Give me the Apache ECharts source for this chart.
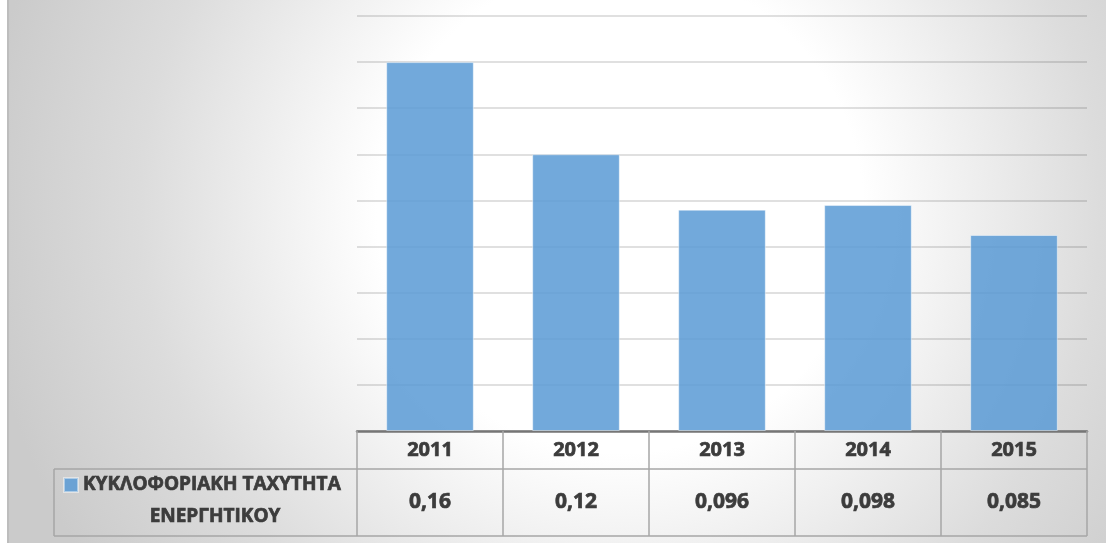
<!DOCTYPE html>
<html>
<head>
<meta charset="utf-8">
<script src="https://cdn.jsdelivr.net/npm/echarts@6/dist/echarts.min.js"></script>
<style>
  html, body { margin: 0; padding: 0; background: #ffffff; }
  #chart { width: 1106px; height: 543px; }
</style>
</head>
<body>
<div id="chart"></div>
<script>
// Years shown on the category axis / table header
const categories = ['2011', '2012', '2013', '2014', '2015'];
// Asset turnover ratio per year
const values = [0.16, 0.12, 0.096, 0.098, 0.085];
// Series name, split over two lines in the legend cell
const seriesName = 'ΚΥΚΛΟΦΟΡΙΑΚΗ ΤΑΧΥΤΗΤΑ ΕΝΕΡΓΗΤΙΚΟΥ';
const legendLines = ['ΚΥΚΛΟΦΟΡΙΑΚΗ ΤΑΧΥΤΗΤΑ', 'ΕΝΕΡΓΗΤΙΚΟΥ'];

const FONT = '"Open Sans", "Noto Sans", sans-serif';
const WEIGHT = 'bold';
const TEXT = '#3c3c3c';
const CELL_LINE = '#a6a6a6';
// a thin outline in the text colour gives the heavy look of the table font
const heavy = { textBorderColor: TEXT, textBorderWidth: 0.7 };

// Greek-style decimal comma
const fmt = v => String(v).replace('.', ',');

const chart = echarts.init(document.getElementById('chart'));

const gridLeft = 357, gridRight = 19, gridTop = 16, gridBottom = 112;
const W = 1106, H = 543;
const axisY = H - gridBottom;          // baseline of the bars
const row1 = axisY + 38;               // line between year row and value row
const row2 = axisY + 105;              // bottom of the table
const legendCellLeft = 54;

chart.setOption({
  animation: false,
  textStyle: { fontFamily: FONT },
  graphic: [
    {
      type: 'rect', z: -10, silent: true,
      shape: { x: 9, y: 0, width: W - 9, height: H },
      style: {
        fill: {
          type: 'radial', x: 620, y: 210, r: 640, global: true,
          colorStops: [
            { offset: 0, color: '#ffffff' },
            { offset: 0.38, color: '#ffffff' },
            { offset: 0.75, color: '#dcdcdc' },
            { offset: 1, color: '#cbcbcb' }
          ]
        }
      }
    },
    {
      type: 'line', silent: true,
      shape: { x1: 8, y1: 0, x2: 8, y2: H },
      style: { stroke: '#bdbdbd', lineWidth: 2 }
    },
    // table grid lines
    {
      type: 'line', silent: true,
      shape: { x1: legendCellLeft, y1: row1, x2: W - gridRight, y2: row1 },
      style: { stroke: CELL_LINE, lineWidth: 1.5 }
    },
    {
      type: 'line', silent: true,
      shape: { x1: legendCellLeft, y1: row2, x2: W - gridRight, y2: row2 },
      style: { stroke: CELL_LINE, lineWidth: 1.5 }
    },
    {
      type: 'line', silent: true,
      shape: { x1: legendCellLeft, y1: row1, x2: legendCellLeft, y2: row2 },
      style: { stroke: CELL_LINE, lineWidth: 1.5 }
    },
    // second line of the legend label
    {
      type: 'text', silent: true,
      x: 215, y: 517,
      style: Object.assign({
        text: legendLines[1],
        fontSize: 19,
        fontWeight: WEIGHT,
        fontFamily: FONT,
        fill: TEXT,
        stroke: TEXT,
        lineWidth: 0.7,
        align: 'center',
        verticalAlign: 'middle'
      })
    }
  ],
  legend: {
    left: 63, top: 474, padding: 0,
    icon: 'rect', itemWidth: 14, itemHeight: 14, itemGap: 5,
    formatter: () => legendLines[0],
    textStyle: Object.assign({ color: TEXT, fontSize: 19, fontWeight: WEIGHT, fontFamily: FONT, lineHeight: 22 }, heavy),
    data: [seriesName]
  },
  grid: { left: gridLeft, right: gridRight, top: gridTop, bottom: gridBottom, containLabel: false },
  xAxis: {
    type: 'category',
    data: categories,
    boundaryGap: true,
    axisLine: { show: true, lineStyle: { color: '#767676', width: 2.5 } },
    axisTick: { show: true, length: 105, lineStyle: { color: CELL_LINE, width: 1.5 } },
    axisLabel: {
      interval: 0, margin: 0,
      formatter: (val, idx) => '{y|' + val + '}\n{v|' + fmt(values[idx]) + '}',
      rich: {
        y: Object.assign({ fontSize: 20, fontWeight: WEIGHT, color: TEXT, fontFamily: FONT, lineHeight: 38, align: 'center' }, heavy),
        v: Object.assign({ fontSize: 21, fontWeight: WEIGHT, color: TEXT, fontFamily: FONT, lineHeight: 66, align: 'center' }, heavy)
      }
    }
  },
  yAxis: {
    type: 'value',
    min: 0, max: 0.18, interval: 0.02,
    axisLine: { show: false },
    axisTick: { show: false },
    axisLabel: { show: false },
    splitLine: { show: true, lineStyle: { color: 'rgba(0,0,0,0.12)', width: 2 } }
  },
  series: [{
    name: seriesName,
    type: 'bar',
    data: values,
    barCategoryGap: '40%',
    itemStyle: {
      color: 'rgba(91,155,213,0.86)',
      borderColor: 'rgba(255,255,255,0.45)',
      borderWidth: 1
    }
  }]
});
</script>
</body>
</html>
